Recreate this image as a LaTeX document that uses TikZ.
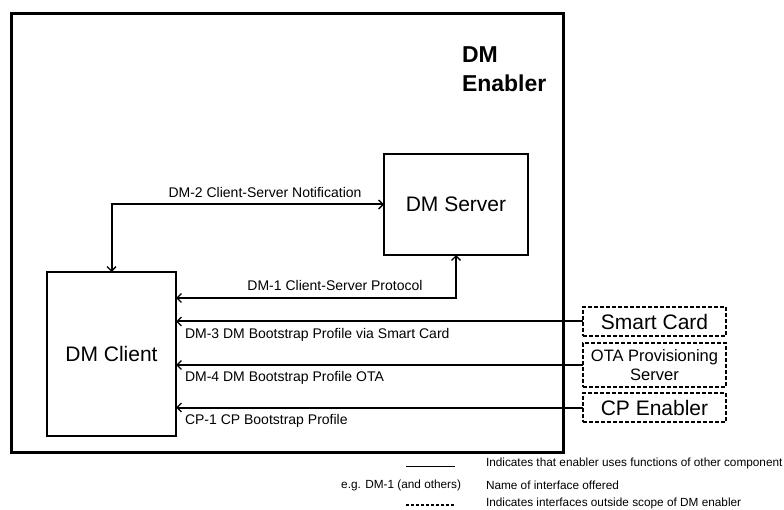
\documentclass[tikz,border=0pt]{standalone}
\usepackage{fontspec}
\setmainfont{Liberation Sans}
\usetikzlibrary{arrows.meta}

\begin{document}
\begin{tikzpicture}[
     x = 1pt,
     y = -1pt,
     >= {Straight Barb[length=4.5pt,width=9pt,line width=1.3pt]},
     line width = 2pt
    ]
    \tikzstyle{block}=[draw, line width=1.8pt, inner sep=0pt, outer sep=0pt, font=\fontsize{21}{25}\selectfont]
    \tikzstyle{extern}=[block, dash pattern=on 4pt off 2pt, align=center]
    \tikzstyle{iface}=[inner sep=0pt, font=\fontsize{14}{16}\selectfont]
    \tikzstyle{legend}=[inner sep=0pt, anchor=west, font=\fontsize{11.8}{14}\selectfont]

    \useasboundingbox (0,0) rectangle (784,510);

    \node[draw, line width=3pt, inner sep=0pt, minimum width=552pt, minimum height=438pt] (enabler) at (287,233) {};
    \node[anchor=west, align=left, inner sep=0pt, font=\fontsize{23}{29}\selectfont\bfseries] (title) at (461,69) {DM\\Enabler};

    \node[block, minimum width=144pt, minimum height=101pt] (server) at (456,204.5) {DM Server};
    \node[block, minimum width=129pt, minimum height=164pt] (client) at (111.5,354) {DM Client};

    \node[extern, minimum width=143pt, minimum height=29pt] (card) at (654.5,321.5) {Smart Card};
    \node[extern, minimum width=143pt, minimum height=44pt, font=\fontsize{16.5}{19}\selectfont] (ota) at (654.5,365) {OTA Provisioning\\Server};
    \node[extern, minimum width=143pt, minimum height=29pt] (cp) at (654.5,407.5) {CP Enabler};

    \draw[<->] (server.west) -| (client.north);
    \draw[<->] (server.south) |- (client.east |- 0,298);
    \draw[->] (card.west) -- (client.east |- card.west);
    \draw[->] (ota.west) -- (client.east |- ota.west);
    \draw[->] (cp.west) -- (client.east |- cp.west);

    \node[iface] (dm2) at (265,192) {DM-2 Client-Server Notification};
    \node[iface] (dm1) at (335,285) {DM-1 Client-Server Protocol};
    \node[iface, anchor=west] (dm3) at (184,335) {DM-3 DM Bootstrap Profile via Smart Card};
    \node[iface, anchor=west] (dm4) at (184,378) {DM-4 DM Bootstrap Profile OTA};
    \node[iface, anchor=west] (cp1) at (184,421) {CP-1 CP Bootstrap Profile};

    \draw[line width=1pt] (406,466) -- (455,466);
    \node[legend] (uses) at (485,463) {Indicates that enabler uses functions of other component};
    \node[legend, anchor=east] (eg) at (462,485) {e.g. DM-1 (and others)};
    \node[legend] (name) at (485,485) {Name of interface offered};
    \draw[line width=1.6pt, dash pattern=on 3pt off 2pt] (406,505) -- (455,505);
    \node[legend] (outside) at (485,503) {Indicates interfaces outside scope of DM enabler};
\end{tikzpicture}
\end{document}
